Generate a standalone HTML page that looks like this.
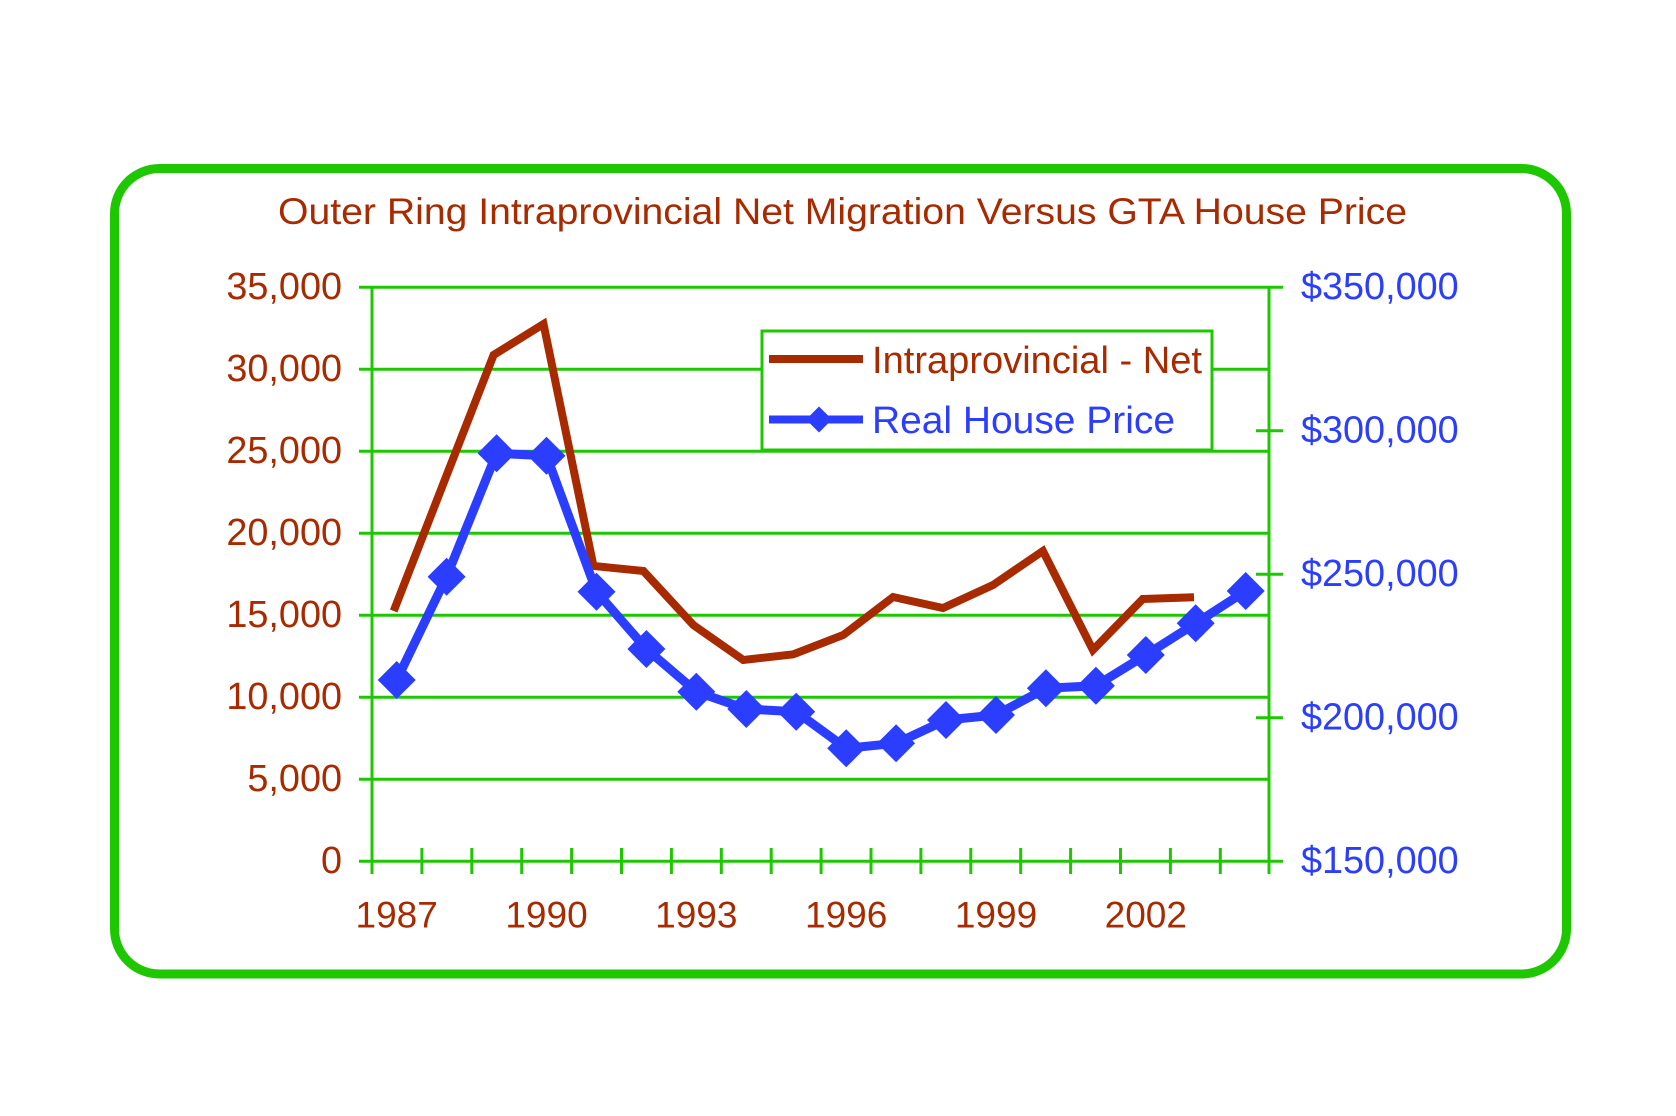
<!DOCTYPE html>
<html>
<head>
<meta charset="utf-8">
<style>
  html, body { margin:0; padding:0; background:#ffffff; }
  svg { display:block; }
  text { font-family: "Liberation Sans", Arial, sans-serif; }
</style>
</head>
<body>
<svg width="1676" height="1116" viewBox="0 0 1676 1116" xmlns="http://www.w3.org/2000/svg">
  <rect x="0" y="0" width="1676" height="1116" fill="#ffffff"/>
  <!-- outer rounded border -->
  <rect x="114.5" y="168.5" width="1452" height="805.5" rx="45" ry="45" fill="#ffffff" stroke="#1ec800" stroke-width="9"/>

  <!-- title -->
  <text x="278" y="224" font-size="37" fill="#a82a00" textLength="1129" lengthAdjust="spacingAndGlyphs">Outer Ring Intraprovincial Net Migration Versus GTA House Price</text>

  <!-- gridlines -->
  <g stroke="#1ec800" stroke-width="3" fill="none">
    <line x1="359" y1="861.3" x2="1283" y2="861.3"/>
    <line x1="359" y1="779.3" x2="1269" y2="779.3"/>
    <line x1="359" y1="697.3" x2="1269" y2="697.3"/>
    <line x1="359" y1="615.3" x2="1269" y2="615.3"/>
    <line x1="359" y1="533.3" x2="1269" y2="533.3"/>
    <line x1="359" y1="451.3" x2="1269" y2="451.3"/>
    <line x1="359" y1="369.3" x2="1269" y2="369.3"/>
    <line x1="359" y1="287.3" x2="1283" y2="287.3"/>
    <!-- axes -->
    <line x1="372" y1="286" x2="372" y2="874"/>
    <line x1="1269" y1="286" x2="1269" y2="874"/>
    <!-- right ticks -->
    <line x1="1256" y1="430.8" x2="1283" y2="430.8"/>
    <line x1="1256" y1="574.3" x2="1283" y2="574.3"/>
    <line x1="1256" y1="717.8" x2="1283" y2="717.8"/>
    <!-- x ticks -->
    <line x1="421.9" y1="848" x2="421.9" y2="874"/>
    <line x1="471.8" y1="848" x2="471.8" y2="874"/>
    <line x1="521.7" y1="848" x2="521.7" y2="874"/>
    <line x1="571.6" y1="848" x2="571.6" y2="874"/>
    <line x1="621.5" y1="848" x2="621.5" y2="874"/>
    <line x1="671.4" y1="848" x2="671.4" y2="874"/>
    <line x1="721.3" y1="848" x2="721.3" y2="874"/>
    <line x1="771.2" y1="848" x2="771.2" y2="874"/>
    <line x1="821.1" y1="848" x2="821.1" y2="874"/>
    <line x1="871.0" y1="848" x2="871.0" y2="874"/>
    <line x1="920.9" y1="848" x2="920.9" y2="874"/>
    <line x1="970.8" y1="848" x2="970.8" y2="874"/>
    <line x1="1020.7" y1="848" x2="1020.7" y2="874"/>
    <line x1="1070.6" y1="848" x2="1070.6" y2="874"/>
    <line x1="1120.5" y1="848" x2="1120.5" y2="874"/>
    <line x1="1170.4" y1="848" x2="1170.4" y2="874"/>
    <line x1="1220.3" y1="848" x2="1220.3" y2="874"/>
  </g>

  <!-- left axis labels -->
  <g font-size="37.8" fill="#a82a00" text-anchor="end">
    <text x="342" y="299">35,000</text>
    <text x="342" y="381">30,000</text>
    <text x="342" y="463">25,000</text>
    <text x="342" y="545">20,000</text>
    <text x="342" y="627">15,000</text>
    <text x="342" y="709">10,000</text>
    <text x="342" y="791">5,000</text>
    <text x="342" y="873">0</text>
  </g>

  <!-- right axis labels -->
  <g font-size="37.8" fill="#2b3dff" text-anchor="start">
    <text x="1301" y="299">$350,000</text>
    <text x="1301" y="442.5">$300,000</text>
    <text x="1301" y="586">$250,000</text>
    <text x="1301" y="729.5">$200,000</text>
    <text x="1301" y="873">$150,000</text>
  </g>

  <!-- x labels -->
  <g font-size="37" fill="#a82a00" text-anchor="middle">
    <text x="396.7" y="927.5">1987</text>
    <text x="546.5" y="927.5">1990</text>
    <text x="696.3" y="927.5">1993</text>
    <text x="846.2" y="927.5">1996</text>
    <text x="996.0" y="927.5">1999</text>
    <text x="1145.8" y="927.5">2002</text>
  </g>

  <!-- legend -->
  <rect x="762" y="331" width="450" height="119" fill="#ffffff" stroke="#1ec800" stroke-width="3"/>
  <line x1="769" y1="359" x2="863" y2="359" stroke="#a82a00" stroke-width="8"/>
  <line x1="769" y1="419.5" x2="863" y2="419.5" stroke="#2b3dff" stroke-width="8"/>
  <polygon points="819,406.5 832,419.5 819,432.5 806,419.5" fill="#2b3dff"/>
  <text x="872" y="373" font-size="38" fill="#a82a00" textLength="330" lengthAdjust="spacingAndGlyphs">Intraprovincial - Net</text>
  <text x="872" y="433" font-size="38" fill="#2b3dff" textLength="303" lengthAdjust="spacingAndGlyphs">Real House Price</text>

  <!-- red series -->
  <polyline fill="none" stroke="#a82a00" stroke-width="8" stroke-linejoin="miter" stroke-miterlimit="4" stroke-linecap="butt"
    points="393.7,611 443.6,483 493.6,355 543.5,324 593.5,566 643.4,571 693.3,625 743.3,660 793.2,654.3 843.2,635 893.1,597 943.0,608 993.0,585 1042.9,551 1092.9,650 1142.8,599 1194,597.3"/>

  <!-- blue series -->
  <polyline fill="none" stroke="#2b3dff" stroke-width="9" stroke-linejoin="round"
    points="396.7,680 446.6,576.7 496.6,453.3 546.5,455.7 596.5,591.7 646.4,649 696.3,691.7 746.3,709 796.2,711.7 846.2,748.3 896.1,743.3 946.0,720 996.0,715 1045.9,688.3 1095.9,685.7 1145.8,655 1195.7,623.3 1245.7,591"/>
  <g fill="#2b3dff">
    <polygon points="396.7,661 415.7,680 396.7,699 377.7,680"/>
    <polygon points="446.6,557.7 465.6,576.7 446.6,595.7 427.6,576.7"/>
    <polygon points="496.6,434.3 515.6,453.3 496.6,472.3 477.6,453.3"/>
    <polygon points="546.5,436.7 565.5,455.7 546.5,474.7 527.5,455.7"/>
    <polygon points="596.5,572.7 615.5,591.7 596.5,610.7 577.5,591.7"/>
    <polygon points="646.4,630 665.4,649 646.4,668 627.4,649"/>
    <polygon points="696.3,672.7 715.3,691.7 696.3,710.7 677.3,691.7"/>
    <polygon points="746.3,690 765.3,709 746.3,728 727.3,709"/>
    <polygon points="796.2,692.7 815.2,711.7 796.2,730.7 777.2,711.7"/>
    <polygon points="846.2,729.3 865.2,748.3 846.2,767.3 827.2,748.3"/>
    <polygon points="896.1,724.3 915.1,743.3 896.1,762.3 877.1,743.3"/>
    <polygon points="946.0,701 965.0,720 946.0,739 927.0,720"/>
    <polygon points="996.0,696 1015.0,715 996.0,734 977.0,715"/>
    <polygon points="1045.9,669.3 1064.9,688.3 1045.9,707.3 1026.9,688.3"/>
    <polygon points="1095.9,666.7 1114.9,685.7 1095.9,704.7 1076.9,685.7"/>
    <polygon points="1145.8,636 1164.8,655 1145.8,674 1126.8,655"/>
    <polygon points="1195.7,604.3 1214.7,623.3 1195.7,642.3 1176.7,623.3"/>
    <polygon points="1245.7,572 1264.7,591 1245.7,610 1226.7,591"/>
  </g>
</svg>
</body>
</html>
